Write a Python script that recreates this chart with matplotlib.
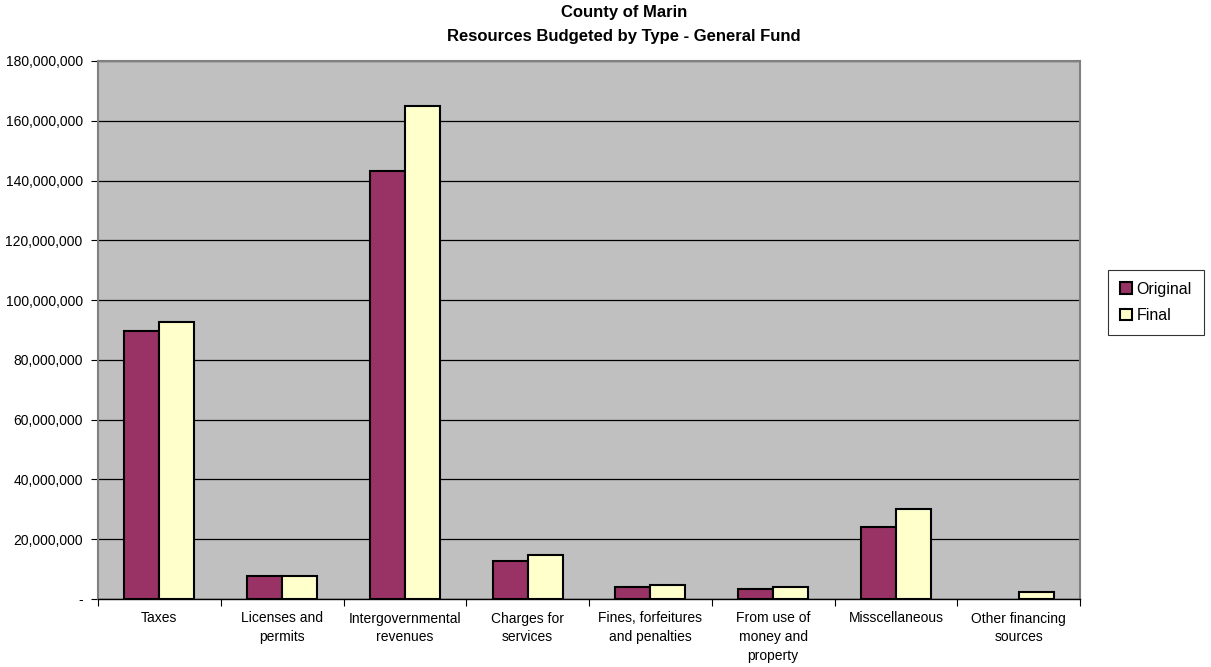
import matplotlib
matplotlib.use("Agg")
import matplotlib.pyplot as plt
import numpy as np
from matplotlib.ticker import FuncFormatter
from matplotlib.patches import Patch

categories = ["Taxes", "Licenses and\npermits", "Intergovernmental\nrevenues",
              "Charges for\nservices", "Fines, forfeitures\nand penalties",
              "From use of\nmoney and\nproperty", "Misscellaneous",
              "Other financing\nsources"]
original = [89.6e6, 7.7e6, 143.2e6, 12.8e6, 4.1e6, 3.5e6, 24.0e6, 0]
final = [92.8e6, 7.8e6, 164.9e6, 14.8e6, 4.8e6, 4.0e6, 30.0e6, 2.5e6]
series_names = ["Original", "Final"]
y_ticks = [0, 20e6, 40e6, 60e6, 80e6, 100e6, 120e6, 140e6, 160e6, 180e6]

plt.rcParams['font.family'] = ['Liberation Sans', 'DejaVu Sans']

fig = plt.figure(figsize=(12.11, 6.67), dpi=100)
ax = fig.add_axes([98/1211, 68/667, 982/1211, 538/667])
ax.set_facecolor('#C0C0C0')

n = len(categories)
x = np.arange(n)
w = 1/3.5
b1 = ax.bar(x - w/2, original, w, color='#993366', edgecolor='black', linewidth=1.5, zorder=3)
b2 = ax.bar(x + w/2, final, w, color='#FFFFCC', edgecolor='black', linewidth=1.5, zorder=3)
for bars in (b1, b2):
    for r in bars:
        if r.get_height() == 0:
            r.set_visible(False)

ax.set_xlim(-0.5, n - 0.5)
ax.set_ylim(0, 180e6)
ax.set_yticks(y_ticks)
ax.yaxis.set_major_formatter(FuncFormatter(lambda v, p: '-' if v == 0 else f"{v:,.0f}"))
ax.grid(axis='y', color='black', linewidth=0.9, zorder=1)
ax.set_axisbelow(True)

ax.set_xticks(np.arange(n + 1) - 0.5)
ax.set_xticklabels([])
ax.set_xticks(x, minor=True)
ax.set_xticklabels(categories, minor=True, fontsize=10, linespacing=1.45, va='top')
ax.tick_params(axis='x', which='minor', length=0, pad=9)
ax.tick_params(axis='x', which='major', length=5, direction='out', color='black')
ax.tick_params(axis='y', length=5, direction='out', labelsize=10, pad=6, color='black')

for s in ['top', 'right', 'left']:
    ax.spines[s].set_color('#808080')
    ax.spines[s].set_linewidth(1.5)
ax.spines['bottom'].set_color('black')
ax.spines['bottom'].set_linewidth(1.0)

fig.text(624/1211, 1 - 12/667, "County of Marin", ha='center', va='center',
         fontsize=12, fontweight='bold')
fig.text(624/1211, 1 - 37/667, "Resources Budgeted by Type - General Fund", ha='center',
         va='center', fontsize=12, fontweight='bold')

handles = [Patch(facecolor='#993366', edgecolor='black', linewidth=1.5),
           Patch(facecolor='#FFFFCC', edgecolor='black', linewidth=1.5)]
leg = fig.legend(handles, series_names, loc='center', bbox_to_anchor=(1156/1211, 1 - 302.5/667),
                 fontsize=11.5, frameon=True, fancybox=False, edgecolor='black',
                 handlelength=0.7, handleheight=0.7, handletextpad=0.3, borderpad=0.75,
                 labelspacing=0.75, borderaxespad=0)
leg.get_frame().set_linewidth(0.8)
leg._legend_box.sep = 0
fig.canvas.draw()

fig.savefig('out.png', dpi=100)
